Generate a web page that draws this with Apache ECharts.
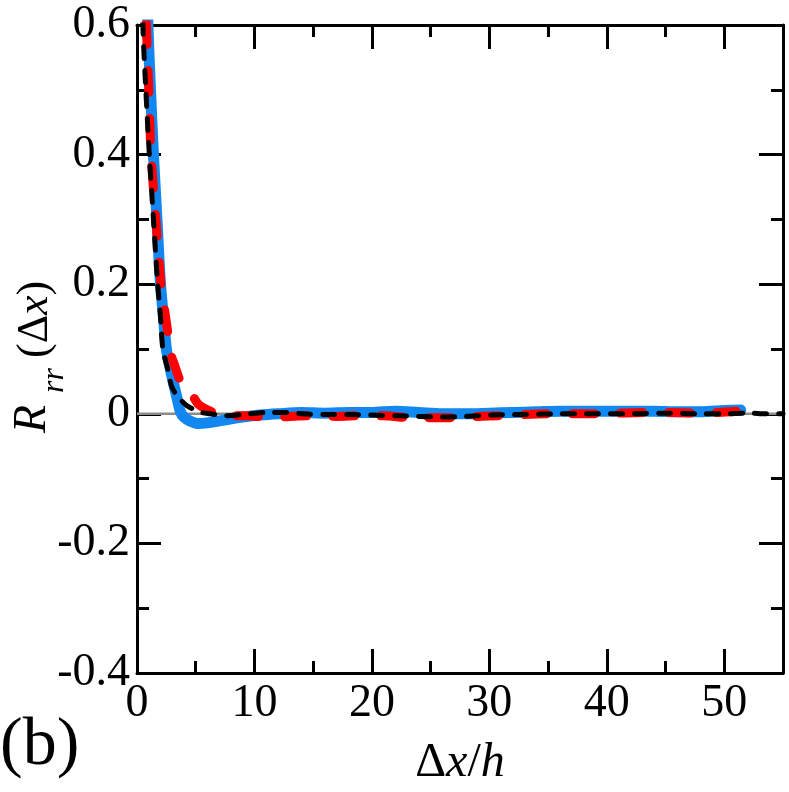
<!DOCTYPE html>
<html>
<head>
<meta charset="utf-8">
<script src="https://cdn.jsdelivr.net/npm/echarts@6/dist/echarts.min.js"></script>
<style>html,body{margin:0;padding:0;background:#fff;}#c{width:789px;height:792px;}</style>
</head>
<body>
<div id="c"></div>
<script>
const xTicks = [0, 10, 20, 30, 40, 50];
const yTicks = [-0.4, -0.2, 0, 0.2, 0.4, 0.6];

const blueX = [0.5, 0.93, 1.15, 1.4, 1.7, 2.0, 2.25, 2.5, 2.8, 3.07, 3.4, 3.7, 4.0, 4.5, 5.2, 6.0, 7.0, 7.9, 9.0, 10.5, 12, 14, 16, 18, 20, 22, 24, 26, 28, 30, 32, 34, 36, 38, 40, 42, 44, 46, 48, 50, 51.4];
const blueY = [0.9, 0.6, 0.5, 0.4, 0.3, 0.2, 0.15, 0.1, 0.072, 0.05, 0.025, 0.003, -0.005, -0.011, -0.015, -0.014, -0.011, -0.008, -0.005, -0.002, 0.0, 0.002, 0.001, 0.002, 0.002, 0.004, 0.002, 0.0, 0.0, 0.001, 0.002, 0.003, 0.004, 0.004, 0.004, 0.004, 0.004, 0.003, 0.003, 0.005, 0.006];

const redX = [0.4, 0.8, 1.0, 1.2, 1.6, 2.04, 2.35, 2.6, 2.75, 3.2, 3.7, 4.1, 4.5, 5.2, 5.8, 6.4, 7.3, 8.2, 9.2, 10.2, 11.6, 13, 15, 17, 19, 21, 23.2, 25, 26.9, 29, 30.9, 33, 35.1, 37, 39.4, 41, 43.4, 45.5, 47.7, 49.5, 51];
const redY = [0.9, 0.6, 0.5, 0.4, 0.3, 0.2, 0.16, 0.128, 0.1, 0.075, 0.05, 0.042, 0.035, 0.015, 0.008, 0.003, -0.003, -0.003, -0.003, -0.004, -0.006, -0.004, -0.003, -0.004, -0.003, -0.003, -0.006, -0.006, -0.006, -0.004, -0.003, -0.001, 0.0, 0.0, 0.0, 0.001, 0.002, 0.002, 0.001, 0.002, 0.004];

const blackX = [0.2, 0.5, 0.75, 1.05, 1.4, 1.76, 2.0, 2.2, 2.6, 3.0, 3.66, 4.3, 5.5, 6.2, 7.5, 9.0, 11, 12.7, 14, 16, 18, 20, 22, 24, 26, 28, 30, 33, 36, 39, 42, 45, 48, 50, 52, 53.6, 55];
const blackY = [0.9, 0.6, 0.5, 0.4, 0.3, 0.2, 0.15, 0.1, 0.07, 0.04, 0.023, 0.012, 0.002, 0.0, -0.003, -0.001, 0.002, 0.002, 0.0, -0.001, -0.001, -0.002, -0.003, -0.004, -0.005, -0.004, -0.002, -0.001, 0.0, 0.0, 0.0, 0.001, 0.0, 0.0, 0.001, 0.0, 0.0];

const zeroX = [0, 55];
const zeroY = [0, 0];

const zip = (a, b) => a.map((v, i) => [v, b[i]]);
const FONT = "'Liberation Serif', 'Times New Roman', serif";

const chart = echarts.init(document.getElementById('c'), null, {renderer: 'canvas'});

const lineOn = {show: true, onZero: false, lineStyle: {color: '#000', width: 3}};
const lineOff = {show: false, onZero: false};
const off = {show: false};

// main axis: border line (+ labels when given)
const xMain = (pos, label) => ({type: 'value', position: pos, min: 0, max: 55, interval: 10,
  axisLine: lineOn, axisTick: off, splitLine: off, axisLabel: label || off});
const yMain = (pos, label) => ({type: 'value', position: pos, min: -0.4, max: 0.6, interval: 0.2,
  axisLine: lineOn, axisTick: off, splitLine: off, axisLabel: label || off});
// tick-only axes shifted inwards so that outward ticks end on the border
const xTickAxis = (pos, step, len) => ({type: 'value', position: pos, offset: -len, min: 0, max: 55, interval: step,
  axisLine: lineOff, splitLine: off, axisLabel: off,
  axisTick: {show: true, length: len, lineStyle: {color: '#000', width: 3}}});
const yTickAxis = (pos, step, len) => ({type: 'value', position: pos, offset: -len, min: -0.4, max: 0.6, interval: step,
  axisLine: lineOff, splitLine: off, axisLabel: off,
  axisTick: {show: true, length: len, lineStyle: {color: '#000', width: 3}}});

const option = {
  animation: false,
  backgroundColor: '#fff',
  grid: {left: 137, right: 6, top: 25, bottom: 119, containLabel: false},
  xAxis: [
    xMain('bottom', {show: true, margin: 8, fontFamily: FONT, fontSize: 46, color: '#000', showMaxLabel: false,
      formatter: v => xTicks.includes(v) ? String(v) : ''}),
    xTickAxis('bottom', 10, 24),
    xTickAxis('bottom', 5, 12),
    xMain('top'),
    xTickAxis('top', 10, 24),
    xTickAxis('top', 5, 12)
  ],
  yAxis: [
    yMain('left', {show: true, margin: 7, fontFamily: FONT, fontSize: 46, color: '#000',
      formatter: v => { const t = yTicks.find(k => Math.abs(k - v) < 1e-9); return t === undefined ? '' : (t === 0 ? '0' : t.toFixed(1)); }}),
    yTickAxis('left', 0.2, 24),
    yTickAxis('left', 0.1, 12),
    yMain('right'),
    yTickAxis('right', 0.2, 24),
    yTickAxis('right', 0.1, 12)
  ],
  series: [
    {type: 'line', name: 'zero', data: zip(zeroX, zeroY), showSymbol: false, symbol: 'none',
     lineStyle: {color: '#8c8c8c', width: 2.5}, z: 1, silent: true},
    {type: 'line', name: 'blue', data: zip(blueX, blueY), showSymbol: false, symbol: 'none', smooth: 0.3,
     lineStyle: {color: '#1387f0', width: 11, cap: 'round', join: 'round'}, z: 2},
    {type: 'line', name: 'red', data: zip(redX, redY), showSymbol: false, symbol: 'none', smooth: 0.3,
     lineStyle: {color: '#ff0000', width: 9, type: [22, 26], cap: 'round', join: 'round'}, z: 3},
    {type: 'line', name: 'black', data: zip(blackX, blackY), showSymbol: false, symbol: 'none', smooth: 0.3,
     lineStyle: {color: '#000', width: 5, type: [12, 12], cap: 'round', join: 'round'}, z: 4}
  ],
  graphic: [
    {type: 'text', left: 0, top: 712, style: {text: '(b)', font: `68px ${FONT}`, fill: '#000'}},
    {type: 'text', x: 460, y: 763, style: {
      text: 'Δ{i|x}/{i|h}', font: `48px ${FONT}`, fill: '#000', textAlign: 'center', textVerticalAlign: 'middle',
      rich: {i: {fontStyle: 'italic', fontFamily: FONT, fontSize: 48}}}},
    {type: 'text', x: 33, y: 433, rotation: Math.PI / 2, style: {
      text: 'R', font: `italic 46px ${FONT}`, fill: '#000', textAlign: 'left', textVerticalAlign: 'middle'}},
    {type: 'text', x: 55, y: 393, rotation: Math.PI / 2, style: {
      text: 'rr', font: `italic 32px ${FONT}`, fill: '#000', textAlign: 'left', textVerticalAlign: 'middle'}},
    {type: 'text', x: 35, y: 358, rotation: Math.PI / 2, style: {
      text: '(Δ{i|x})', font: `44px ${FONT}`, fill: '#000', textAlign: 'left', textVerticalAlign: 'middle',
      rich: {i: {fontStyle: 'italic', fontFamily: FONT, fontSize: 44}}}}
  ]
};
chart.setOption(option);
</script>
</body>
</html>
